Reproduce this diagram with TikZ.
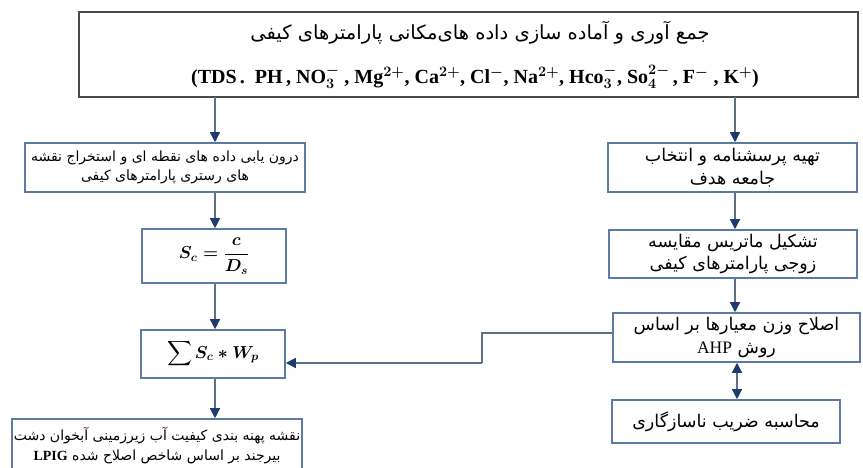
\documentclass[tikz,border=0pt]{standalone}
\usepackage{amsmath}
\usepackage{fontspec}
\setmainfont{Liberation Serif}
\newfontfamily\fa[Script=Arabic]{DejaVu Sans}
\TeXXeTstate=1
\usetikzlibrary{arrows.meta}
\definecolor{boxc}{HTML}{5B7BA6}
\definecolor{topc}{HTML}{4A4A4A}
\definecolor{linec}{HTML}{5F6F86}
\definecolor{tipc}{HTML}{1F3A6E}
\newcommand{\chemline}{(TDS\,.\ \ PH\,, NO$_3^-$\ , Mg$^{2+}$, Ca$^{2+}$, Cl$^-$, Na$^{2+}$, Hco$_3^-$, So$_4^{2-}$\,, F$^-$\ , K$^+$)}
\tikzset{
  flowbox/.style={draw=boxc, line width=1.6pt, inner sep=0pt, align=center, fill=white},
  leftfa/.style={font=\fa\fontsize{14}{19.5}\selectfont},
  rightfa/.style={font=\fa\fontsize{17.5}{22.5}\selectfont},
  conn/.style={draw=linec, line width=1.4pt, -{Triangle[length=10pt,width=10pt,color=tipc]}},
  dconn/.style={draw=linec, line width=1.4pt, {Triangle[length=10pt,width=10pt,color=tipc]}-{Triangle[length=10pt,width=10pt,color=tipc]}},
  plain/.style={draw=linec, line width=1.4pt}
}
\begin{document}
\begin{tikzpicture}[x=1pt,y=-1pt]
\useasboundingbox[fill=white] (0,0) rectangle (863,468);
% top box
\node[flowbox, draw=topc, minimum width=779pt, minimum height=85pt] (top) at (468.5,54.5) {};
\node[font=\fa\fontsize{19.5}{22}\selectfont] (toptitle) at (480,33) {\beginR جمع آوری و آماده سازی داده های‌مکانی پارامترهای کیفی\endR};
\node[font=\bfseries\boldmath\fontsize{20}{23}\selectfont] (topformula) at (475,77) {\chemline};
% left column
\node[flowbox, leftfa, minimum width=280pt, minimum height=49pt] (L1) at (165,167.5)
  {\beginR درون یابی داده های نقطه ای و استخراج نقشه\endR\\\beginR های رستری پارامترهای کیفی\endR};
\node[flowbox, minimum width=144pt, minimum height=54pt, font=\fontsize{17}{20}\selectfont] (Sc) at (214,256)
  {$\boldsymbol{S_c=\dfrac{c}{D_s}}$};
\node[flowbox, minimum width=144pt, minimum height=48pt, font=\fontsize{17}{20}\selectfont] (Sum) at (213,354)
  {$\displaystyle\sum \boldsymbol{S_c * W_p}$};
\node[flowbox, leftfa, minimum width=290pt, minimum height=56pt, text depth=6pt] (Out) at (157,447)
  {\beginR نقشه پهنه بندی کیفیت آب زیرزمینی آبخوان دشت\endR\\\beginR بیرجند بر اساس شاخص اصلاح شده \beginL\rmfamily\bfseries LPIG\endL\endR};
% right column
\node[flowbox, rightfa, minimum width=249pt, minimum height=49pt] (R1) at (732.5,167.5)
  {\beginR تهیه پرسشنامه و انتخاب\endR\\\beginR جامعه هدف\endR};
\node[flowbox, rightfa, minimum width=248pt, minimum height=48pt] (R2) at (733,254)
  {\beginR تشکیل ماتریس مقایسه\endR\\\beginR زوجی پارامترهای کیفی\endR};
\node[flowbox, rightfa, minimum width=247pt, minimum height=49pt] (R3) at (736.5,337.5)
  {\beginR اصلاح وزن معیارها بر اساس\endR\\\beginR روش \beginL{\rmfamily AHP}\endL\endR};
\node[flowbox, rightfa, minimum width=228pt, minimum height=43pt] (R4) at (726,421.5)
  {\beginR محاسبه ضریب ناسازگاری\endR};
% connectors
\coordinate (tl) at (215,97);
\coordinate (tr) at (735,97);
\draw[conn] (tl) -- (tl |- L1.north);
\draw[conn] (tr) -- (tr |- R1.north);
\draw[conn] (tl |- L1.south) -- (tl |- Sc.north);
\draw[conn] (tl |- Sc.south) -- (tl |- Sum.north);
\draw[conn] (tl |- Sum.south) -- (tl |- Out.north);
\coordinate (rx) at (735,0);
\draw[conn] (rx |- R1.south) -- (rx |- R2.north);
\draw[conn] (rx |- R2.south) -- (rx |- R3.north);
\coordinate (rd) at (737,0);
\draw[dconn] (rd |- R3.south) -- (rd |- R4.north);
\coordinate (k1) at (482,333);
\coordinate (k2) at (482,363);
\draw[plain] (R3.west |- k1) -- (k1) -- (k2);
\draw[conn] (k2) -- (Sum.east |- k2);
\end{tikzpicture}
\end{document}
